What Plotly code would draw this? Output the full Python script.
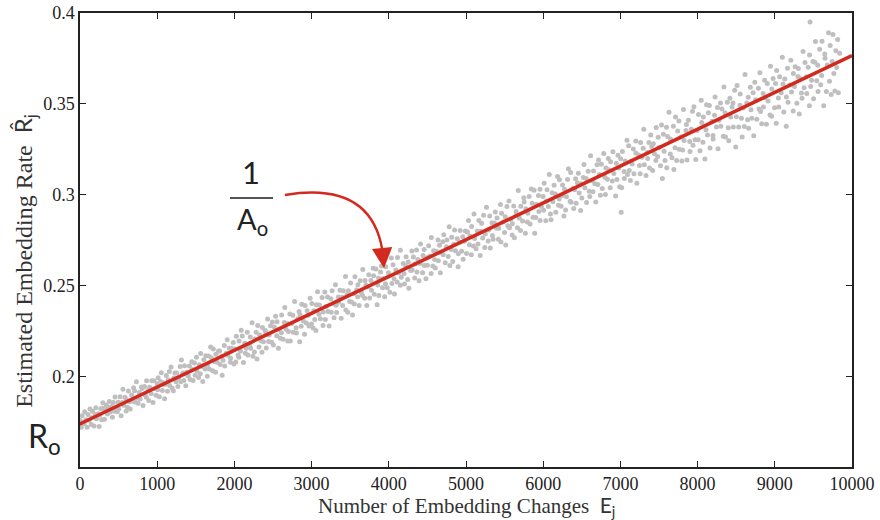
import plotly.graph_objects as go

# Number of embedding changes E_j (x) and estimated embedding rate R_hat_j (y, in units of 1e-4)
E_j = [
3,15,28,44, 52,61,77,93, 104,118,129,146, 151,163,182,197, 205,214,233,248,
253,269,281,296, 302,317,326,341, 356,364,379,392, 408,420,431,449, 454,467,483,495,
503,519,532,547, 556,566,584,598, 601,615,627,642, 651,669,678,694, 707,713,731,745,
752,768,779,797, 804,816,835,843, 859,862,881,890, 902,921,929,946, 958,965,984,999,
1006,1012,1028,1043, 1053,1067,1079,1096, 1102,1118,1134,1141, 1157,1161,1180,1193, 1209,1216,1229,1244,
1251,1268,1277,1298, 1305,1313,1332,1345, 1354,1370,1381,1399, 1401,1417,1426,1448, 1452,1465,1483,1491,
1509,1514,1536,1547, 1558,1563,1582,1590, 1604,1621,1630,1649, 1650,1668,1675,1692, 1703,1719,1727,1746,
1756,1760,1778,1794, 1808,1815,1837,1841, 1852,1869,1874,1895, 1907,1913,1932,1948, 1951,1966,1985,1993,
2004,2018,2025,2047, 2058,2061,2079,2088, 2101,2117,2134,2142, 2153,2166,2175,2197, 2206,2211,2229,2240,
2259,2264,2281,2293, 2302,2319,2327,2345, 2357,2363,2376,2398, 2409,2413,2430,2444, 2450,2468,2482,2491,
2505,2516,2534,2549, 2552,2570,2578,2596, 2608,2612,2631,2647, 2653,2669,2686,2690, 2701,2718,2725,2743,
2757,2764,2780,2799, 2803,2821,2838,2846, 2851,2865,2872,2894, 2909,2916,2933,2942, 2955,2967,2981,2998,
3003,3019,3028,3041, 3056,3062,3077,3095, 3101,3114,3136,3148, 3152,3171,3178,3190, 3206,3213,3227,3249,
3254,3266,3285,3291, 3309,3318,3324,3347, 3350,3368,3383,3396, 3402,3411,3439,3443, 3458,3469,3476,3492,
3505,3517,3531,3548, 3553,3561,3584,3597, 3600,3616,3629,3645, 3659,3663,3688,3692, 3704,3715,3730,3741,
3752,3769,3776,3798, 3803,3812,3834,3849, 3858,3867,3871,3893, 3905,3919,3928,3946, 3957,3961,3980,3996,
4001,4015,4033,4040, 4055,4068,4074,4091, 4108,4113,4127,4149, 4150,4162,4186,4197, 4203,4219,4224,4245,
4252,4260,4283,4299, 4304,4318,4335,4341, 4359,4366,4377,4392, 4406,4411,4438,4444, 4457,4462,4481,4495,
4500,4517,4526,4548, 4551,4569,4580,4593, 4603,4614,4637,4642, 4656,4668,4675,4699, 4705,4712,4731,4747,
4753,4770,4782,4791, 4809,4816,4828,4840, 4852,4864,4887,4898, 4901,4917,4924,4943, 4958,4963,4979,4992,
5007,5018,5032,5045, 5052,5069,5073,5096, 5104,5111,5130,5148, 5155,5167,5184,5190, 5202,5216,5228,5243,
5250,5265,5287,5293, 5307,5314,5336,5342, 5351,5368,5379,5397, 5402,5419,5425,5446, 5453,5461,5484,5499,
5508,5515,5530,5542, 5556,5564,5581,5598, 5600,5618,5627,5649, 5653,5666,5677,5691, 5706,5710,5733,5748,
5754,5769,5775,5795, 5801,5817,5830,5846, 5857,5868,5882,5890, 5903,5912,5939,5944, 5959,5960,5977,5998,
6005,6013,6034,6042, 6050,6067,6079,6094, 6101,6116,6125,6141, 6158,6163,6186,6199, 6207,6211,6232,6246,
6251,6268,6276,6290, 6302,6315,6327,6349, 6356,6361,6384,6395, 6408,6419,6426,6443, 6455,6466,6485,6492,
6501,6519,6528,6540, 6557,6562,6583,6596, 6603,6614,6638,6645, 6652,6670,6681,6697, 6709,6717,6729,6741,
6753,6766,6784,6799, 6806,6812,6831,6843, 6850,6868,6873,6894, 6903,6915,6938,6947, 6955,6969,6980,6991,
7004,7017,7026,7048, 7051,7063,7085,7092, 7108,7114,7129,7140, 7152,7167,7175,7199, 7200,7213,7236,7247,
7256,7261,7279,7295, 7303,7310,7332,7348, 7354,7369,7377,7393, 7406,7418,7427,7441, 7459,7464,7482,7490,
7502,7519,7533,7544, 7557,7566,7578,7597, 7601,7612,7630,7646, 7650,7668,7686,7693, 7707,7714,7729,7742,
7758,7760,7783,7796, 7805,7817,7825,7849, 7855,7863,7881,7898, 7901,7919,7934,7940, 7952,7967,7976,7993,
8008,8012,8031,8047, 8053,8069,8074,8095, 8109,8116,8128,8140, 8152,8161,8187,8199, 8201,8219,8226,8244,
8257,8265,8278,8296, 8300,8315,8333,8341, 8356,8362,8385,8397, 8404,8418,8429,8446, 8458,8463,8480,8494,
8503,8511,8532,8549, 8552,8568,8577,8590, 8605,8614,8636,8648, 8656,8661,8683,8692, 8702,8719,8727,8741,
8750,8767,8788,8795, 8807,8816,8830,8849, 8853,8868,8875,8891, 8902,8913,8937,8944, 8959,8961,8978,8997,
9009,9018,9024,9046, 9051,9062,9083,9097, 9106,9117,9129,9148, 9150,9165,9171,9194, 9207,9216,9238,9240,
9255,9263,9286,9299, 9305,9317,9324,9345, 9353,9366,9380,9391, 9409,9414,9432,9448, 9450,9465,9476,9494,
9502,9519,9527,9543, 9556,9560,9581,9595, 9607,9612,9634,9647, 9651,9668,9679,9696, 9708,9717,9730,9742,
9753,9765,9778,9791, 9802,9814,9823,9840, 7010,9456,
]

R_hat_e4 = [
1760,1724,1787,1744, 1743,1808,1764,1724, 1793,1760,1824,1738, 1776,1811,1731,1794, 1830,1770,1797,1728,
1789,1825,1764,1858, 1828,1768,1813,1846, 1796,1832,1865,1807, 1837,1778,1860,1812, 1890,1833,1809,1861,
1824,1891,1786,1859, 1932,1845,1888,1813, 1873,1833,1922,1863, 1824,1900,1868,1941, 1924,1862,1973,1886,
1856,1914,1879,1945, 1937,1843,1948,1902, 1889,1979,1926,1870, 1943,1909,1979,1859, 1979,1936,1899,1962,
1930,1995,1891,1975, 2023,1926,1968,1880, 1959,2008,1921,1985, 2030,1953,2055,1939, 1924,1994,2021,1973,
2022,1947,1994,2057, 1973,2093,2022,1981, 2061,1951,2026,2007, 2007,2060,1986,2083, 2041,1981,2076,2009,
2108,2033,1997,2067, 2018,2129,2057,1975, 2095,2044,2116,2004, 2066,2115,2044,2164, 2104,2034,2153,2083,
2026,2124,2080,2143, 2143,2068,2114,2009, 2092,2173,2060,2130, 2204,2119,2158,2081, 2103,2157,2189,2071,
2154,2082,2224,2120, 2108,2197,2143,2256, 2225,2079,2185,2130, 2158,2246,2120,2179, 2219,2157,2298,2114,
2137,2208,2245,2099, 2282,2165,2231,2199, 2135,2271,2194,2255, 2243,2159,2318,2195, 2230,2281,2190,2302,
2175,2274,2333,2226, 2303,2157,2261,2212, 2243,2340,2207,2299, 2381,2262,2294,2197, 2250,2346,2197,2293,
2339,2246,2414,2270, 2242,2320,2359,2194, 2340,2278,2399,2308, 2235,2392,2297,2364, 2339,2280,2432,2291,
2404,2269,2364,2316, 2255,2396,2468,2345, 2395,2320,2436,2283, 2357,2467,2315,2389, 2439,2360,2280,2429,
2355,2474,2402,2325, 2506,2394,2354,2439, 2411,2476,2323,2438, 2393,2473,2552,2368, 2451,2355,2474,2415,
2516,2412,2340,2457, 2401,2550,2479,2441, 2507,2393,2529,2464, 2448,2591,2432,2530, 2505,2393,2495,2562,
2434,2530,2477,2597, 2556,2455,2593,2396, 2505,2544,2448,2576, 2610,2490,2541,2440, 2512,2605,2490,2573,
2554,2465,2654,2514, 2617,2540,2456,2588, 2522,2656,2571,2504, 2696,2548,2623,2568, 2511,2609,2660,2535,
2631,2487,2585,2692, 2587,2659,2543,2620, 2697,2576,2645,2528, 2624,2730,2573,2667, 2700,2613,2540,2655,
2614,2721,2663,2569, 2766,2609,2693,2646, 2599,2691,2752,2639, 2724,2573,2684,2743, 2671,2782,2628,2716,
2753,2662,2826,2612, 2700,2768,2635,2729, 2808,2693,2760,2606, 2677,2740,2805,2690, 2770,2647,2745,2802,
2678,2797,2860,2727, 2774,2672,2827,2720, 2896,2761,2705,2802, 2731,2859,2667,2800, 2844,2763,2889,2711,
2785,2932,2747,2808, 2885,2708,2847,2777, 2756,2846,2907,2817, 2874,2757,2817,2948, 2742,2900,2852,2794,
2880,2725,2936,2831, 2967,2820,2865,2780, 2842,2939,2765,2909, 2894,2820,3025,2874, 2805,2938,2857,2985,
2961,2790,2924,2852, 2899,2991,2840,3033, 2954,2877,3026,2789, 2876,2948,2997,2909, 3032,2859,2937,2991,
2916,3064,2858,2966, 3029,2937,3113,2895, 2864,3012,2963,3053, 3005,2905,3101,2944, 2978,3084,2938,2997,
3055,2884,3032,2917, 2990,3085,3144,2966, 3124,2960,3036,2926, 3029,3089,2954,3067, 3119,3011,2915,3061,
2983,3096,3168,3040, 3090,2959,3131,3020, 2992,3215,3078,3017, 3132,3061,2962,3166, 3057,3192,3113,2999,
3169,3036,3228,3097, 3002,3148,3087,3200, 3138,3039,3183,3077, 3238,3118,2994,3174, 3085,3218,3148,3045,
3199,3039,3239,3129, 3090,3186,3301,3112, 3271,3134,3080,3185, 3170,3252,3117,3297, 3230,3064,3219,3162,
3117,3288,3207,3257, 3361,3166,3107,3233, 3200,3288,3148,3329, 3266,3134,3282,3226, 3189,3371,3211,3317,
3261,3160,3385,3091, 3334,3240,3189,3372, 3149,3321,3454,3225, 3306,3205,3377,3140, 3259,3429,3190,3352,
3407,3251,3319,3186, 3247,3469,3299,3354, 3387,3192,3410,3294, 3239,3361,3460,3273, 3485,3304,3195,3354,
3303,3442,3243,3520, 3398,3290,3429,3198, 3359,3496,3330,3452, 3491,3258,3405,3327, 3308,3438,3539,3373,
3481,3254,3411,3506, 3377,3472,3322,3593, 3452,3318,3509,3370, 3298,3532,3429,3483, 3506,3373,3575,3264,
3430,3602,3373,3493, 3555,3421,3318,3478, 3376,3662,3506,3414, 3537,3367,3592,3468, 3421,3562,3325,3619,
3523,3416,3586,3472, 3671,3459,3392,3558, 3484,3631,3534,3389, 3612,3517,3439,3708, 3432,3582,3640,3479,
3613,3394,3684,3533, 3484,3650,3562,3757, 3610,3456,3637,3378, 3538,3697,3510,3605, 3741,3566,3461,3667,
3596,3704,3504,3651, 3695,3445,3642,3560, 3532,3789,3589,3728, 3650,3557,3702,3490, 3769,3596,3630,3733,
3529,3730,3844,3627, 3713,3568,3801,3606, 3656,3845,3490,3774, 3752,3569,3714,3891, 3625,3821,3552,3733,
3882,3668,3571,3792, 3701,3854,3562,3779, 2905,3950,
]
R_hat = [v / 10000 for v in R_hat_e4]

# fitted line parameters: R_hat = R_o + E / A_o
R_o = 0.1742
inv_A_o = 0.00002024

x_ticks = [0, 1000, 2000, 3000, 4000, 5000, 6000, 7000, 8000, 9000, 10000]
y_ticks = [0.2, 0.25, 0.3, 0.35, 0.4]
y_ticklabels = ["0.2", "0.25", "0.3", "0.35", "0.4"]

SERIF = "Liberation Serif, Times New Roman, serif"
SANS = "Lato, Open Sans, sans-serif"
RED = "#d32a1f"

fig = go.Figure()
fig.add_trace(go.Scatter(
    x=E_j, y=R_hat, mode="markers",
    marker=dict(size=5, color="#bfbfbf", line=dict(width=0)),
    hoverinfo="skip", showlegend=False,
))

# regression line
fig.add_shape(type="line", xref="x", yref="y",
              x0=-350, y0=R_o + inv_A_o * (-350), x1=10000, y1=R_o + inv_A_o * 10000,
              line=dict(color=RED, width=3.6), layer="above")

# curved arrow
fig.add_shape(type="path", xref="x", yref="y",
              path="M 2655,0.3000 Q 3760,0.3078 3915,0.2700",
              line=dict(color=RED, width=2.4), layer="above")
fig.add_annotation(x=3938, y=0.2597, ax=3915, ay=0.2700, xref="x", yref="y",
                   axref="x", ayref="y", text="", showarrow=True,
                   arrowhead=2, arrowsize=1.7, arrowwidth=2.4, arrowcolor=RED)

# 1 / A_o fraction
fig.add_annotation(x=2215, y=0.3126, xref="x", yref="y", text="1", showarrow=False,
                   xanchor="center", yanchor="middle",
                   font=dict(family=SANS, size=31, color="#222222"))
fig.add_shape(type="line", xref="x", yref="y", x0=1943, x1=2500, y0=0.2984, y1=0.2984,
              line=dict(color="#555555", width=2))
fig.add_annotation(x=2230, y=0.2860, xref="x", yref="y", text="A<sub>o</sub>", showarrow=False,
                   xanchor="center", yanchor="middle",
                   font=dict(family=SANS, size=29, color="#222222"))

# R_o label
fig.add_annotation(x=-0.046, y=0.064, xref="paper", yref="paper", text="R<sub>o</sub>",
                   showarrow=False, xanchor="center", yanchor="middle",
                   font=dict(family=SANS, size=32, color="#222222"))

# axis titles
fig.add_annotation(x=0.5, y=-0.085, xref="paper", yref="paper",
                   text="Number of Embedding Changes  <span style='font-family:Lato'>E<sub>j</sub></span>",
                   showarrow=False, xanchor="center", yanchor="middle",
                   font=dict(family=SERIF, size=21, color="#333333"))
fig.add_annotation(x=-0.072, y=0.455, xref="paper", yref="paper",
                   text="Estimated Embedding Rate  <span style='font-family:Lato'>R\u0302<sub>j</sub></span>",
                   showarrow=False, textangle=-90, xanchor="center", yanchor="middle",
                   font=dict(family=SERIF, size=24, color="#333333"))

axis_common = dict(showgrid=False, zeroline=False, showline=True, linecolor="#222222",
                   linewidth=1.5, mirror="ticks", ticks="inside", ticklen=6,
                   tickcolor="#222222", tickwidth=1, automargin=False,
                   ticklabeloverflow="allow",
                   tickfont=dict(family=SERIF, size=18, color="#222222"))

fig.update_xaxes(range=[0, 10000], tickvals=x_ticks, ticktext=[str(v) for v in x_ticks],
                 **axis_common)
fig.update_yaxes(range=[0.1505, 0.4], tickvals=y_ticks, ticktext=y_ticklabels,
                 ticklabelstandoff=0, **axis_common)

fig.update_layout(
    width=880, height=520,
    margin=dict(l=80, r=28, t=13, b=53),
    plot_bgcolor="white", paper_bgcolor="white",
    showlegend=False,
)

# remove the browser's default 8 px body margin so the figure fills the window exactly
fig.write_html("out.html", config={"displayModeBar": False},
               post_script="document.body.style.margin='0';document.body.style.overflow='hidden';")
